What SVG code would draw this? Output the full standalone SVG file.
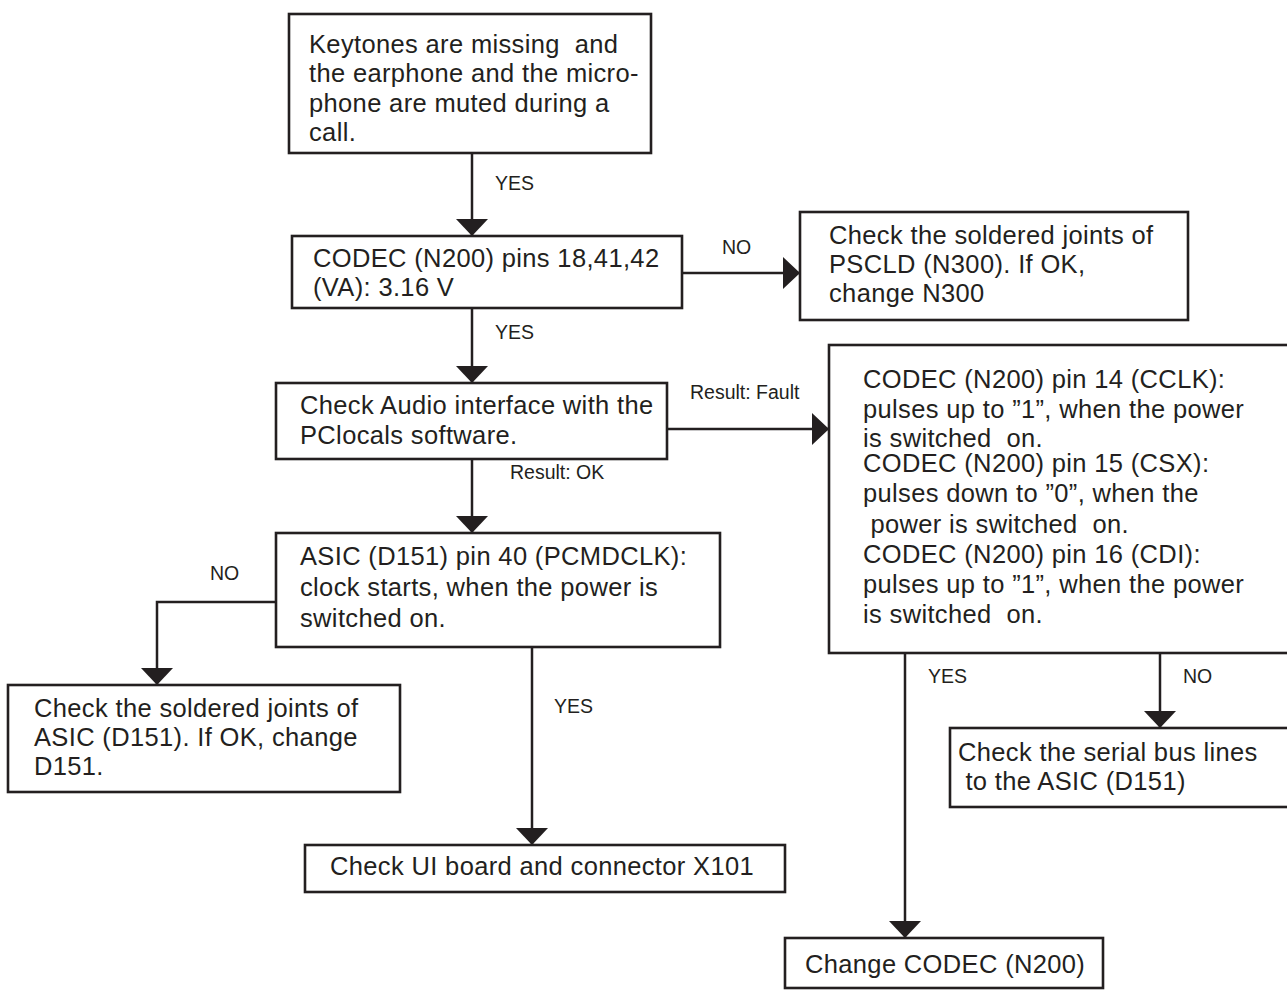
<svg xmlns="http://www.w3.org/2000/svg" width="1287" height="990" viewBox="0 0 1287 990">
<style>
  .box { fill: #ffffff; stroke: #231f20; stroke-width: 2.6; }
  .t { font-family: "Liberation Sans", Arial, sans-serif; font-size: 25.5px; letter-spacing: 0.35px; fill: #231f20; white-space: pre; }
  .lbl { font-family: "Liberation Sans", Arial, sans-serif; font-size: 19.5px; fill: #231f20; }
  .c { fill: none; stroke: #231f20; stroke-width: 2.5; marker-end: url(#ah); }
</style>
<defs>
  <marker id="ah" viewBox="0 0 17 32" refX="17" refY="16" markerWidth="17" markerHeight="32" markerUnits="userSpaceOnUse" orient="auto">
    <path d="M0,0 L17,16 L0,32 z" fill="#231f20"/>
  </marker>
</defs>
<rect width="1287" height="990" fill="#ffffff"/>

<g id="connectors">
  <path class="c" d="M472,153 V236"/>
  <path class="c" d="M682,273 H800"/>
  <path class="c" d="M472,308 V383"/>
  <path class="c" d="M667,429 H829"/>
  <path class="c" d="M472,459 V533"/>
  <path class="c" d="M276,602 H157 V685"/>
  <path class="c" d="M532,647 V845"/>
  <path class="c" d="M905,653 V938"/>
  <path class="c" d="M1160,653 V728"/>
  <text class="lbl" x="495" y="190">YES</text>
  <text class="lbl" x="722" y="254">NO</text>
  <text class="lbl" x="495" y="339">YES</text>
  <text class="lbl" x="690" y="399">Result: Fault</text>
  <text class="lbl" x="510" y="479">Result: OK</text>
  <text class="lbl" x="210" y="580">NO</text>
  <text class="lbl" x="554" y="713">YES</text>
  <text class="lbl" x="928" y="683">YES</text>
  <text class="lbl" x="1183" y="683">NO</text>
</g>

<g id="n1">
  <rect class="box" x="289" y="14" width="362" height="139"/>
  <text class="t" x="309" y="53">Keytones are missing  and</text>
  <text class="t" x="309" y="82">the earphone and the micro-</text>
  <text class="t" x="309" y="112">phone are muted during a</text>
  <text class="t" x="309" y="141">call.</text>
</g>

<g id="n2">
  <rect class="box" x="292" y="236" width="390" height="72"/>
  <text class="t" x="313" y="267">CODEC (N200) pins 18,41,42</text>
  <text class="t" x="313" y="296">(VA): 3.16 V</text>
</g>

<g id="n3">
  <rect class="box" x="800" y="212" width="388" height="108"/>
  <text class="t" x="829" y="244">Check the soldered joints of</text>
  <text class="t" x="829" y="273">PSCLD (N300). If OK,</text>
  <text class="t" x="829" y="302">change N300</text>
</g>

<g id="n4">
  <rect class="box" x="276" y="383" width="391" height="76"/>
  <text class="t" x="300" y="414">Check Audio interface with the</text>
  <text class="t" x="300" y="444">PClocals software.</text>
</g>

<g id="n5">
  <rect class="box" x="829" y="345" width="470" height="308"/>
  <text class="t" x="863" y="388">CODEC (N200) pin 14 (CCLK):</text>
  <text class="t" x="863" y="418">pulses up to ”1”, when the power</text>
  <text class="t" x="863" y="447">is switched  on.</text>
  <text class="t" x="863" y="472">CODEC (N200) pin 15 (CSX):</text>
  <text class="t" x="863" y="502">pulses down to ”0”, when the</text>
  <text class="t" x="863" y="533"> power is switched  on.</text>
  <text class="t" x="863" y="563">CODEC (N200) pin 16 (CDI):</text>
  <text class="t" x="863" y="593">pulses up to ”1”, when the power</text>
  <text class="t" x="863" y="623">is switched  on.</text>
</g>

<g id="n6">
  <rect class="box" x="276" y="533" width="444" height="114"/>
  <text class="t" x="300" y="565">ASIC (D151) pin 40 (PCMDCLK):</text>
  <text class="t" x="300" y="596">clock starts, when the power is</text>
  <text class="t" x="300" y="627">switched on.</text>
</g>

<g id="n7">
  <rect class="box" x="8" y="685" width="392" height="107"/>
  <text class="t" x="34" y="717">Check the soldered joints of</text>
  <text class="t" x="34" y="746">ASIC (D151). If OK, change</text>
  <text class="t" x="34" y="775">D151.</text>
</g>

<g id="n8">
  <rect class="box" x="305" y="845" width="480" height="47"/>
  <text class="t" x="330" y="875">Check UI board and connector X101</text>
</g>

<g id="n9">
  <rect class="box" x="950" y="728" width="349" height="79"/>
  <text class="t" x="958" y="761">Check the serial bus lines</text>
  <text class="t" x="958" y="790"> to the ASIC (D151)</text>
</g>

<g id="n10">
  <rect class="box" x="785" y="938" width="318" height="50"/>
  <text class="t" x="805" y="973">Change CODEC (N200)</text>
</g>
</svg>
